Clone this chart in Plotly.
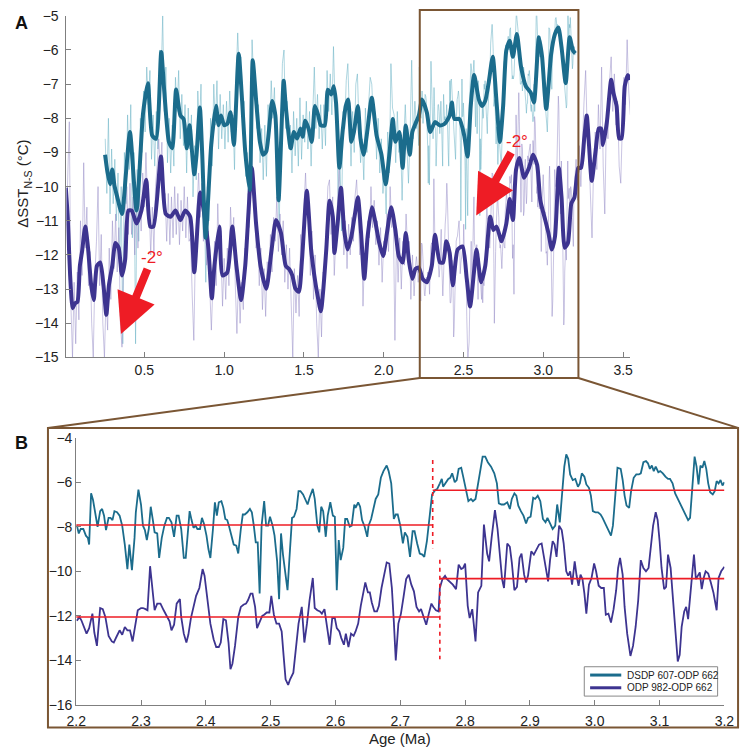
import plotly.graph_objects as go

# ---------------- Panel B data (raw, 2.2-3.2 Ma) ----------------
b607 = [(2.201,-7.94),(2.204,-8.3),(2.207,-8.1),(2.211,-8.1),(2.215,-8.4),(2.218,-8.5),(2.220,-8.8),(2.223,-6.5),(2.226,-6.8),(2.230,-7.5),(2.233,-8.0),(2.237,-7.3),(2.240,-7.2),(2.243,-7.5),(2.246,-8.15),(2.250,-7.6),(2.253,-7.6),(2.256,-7.7),(2.259,-7.3),(2.263,-7.35),(2.267,-7.5),(2.271,-7.95),(2.275,-8.8),(2.279,-9.9),(2.282,-8.8),(2.286,-9.95),(2.290,-8.5),(2.292,-7.35),(2.296,-6.33),(2.300,-7.0),(2.303,-7.95),(2.306,-8.15),(2.309,-8.6),(2.312,-8.1),(2.315,-7.1),(2.318,-7.65),(2.321,-8.25),(2.325,-8.3),(2.328,-9.4),(2.332,-8.5),(2.336,-7.95),(2.340,-7.6),(2.343,-7.6),(2.347,-7.8),(2.351,-8.45),(2.355,-7.5),(2.358,-7.5),(2.362,-8.1),(2.366,-9.4),(2.369,-9.4),(2.372,-8.1),(2.375,-7.3),(2.378,-7.7),(2.381,-8.05),(2.384,-7.95),(2.387,-8.1),(2.391,-8.1),(2.394,-7.6),(2.397,-7.85),(2.401,-8.4),(2.404,-9.0),(2.407,-9.4),(2.411,-8.1),(2.414,-6.9),(2.417,-7.5),(2.420,-6.9),(2.424,-6.85),(2.427,-7.15),(2.430,-7.65),(2.433,-7.7),(2.436,-8.0),(2.440,-8.4),(2.443,-8.8),(2.447,-8.85),(2.450,-9.2),(2.454,-8.1),(2.457,-7.45),(2.460,-7.45),(2.464,-7.35),(2.468,-7.2),(2.471,-7.35),(2.474,-7.95),(2.477,-8.7),(2.480,-8.7),(2.483,-11.0),(2.486,-7.95),(2.490,-6.85),(2.493,-7.95),(2.496,-7.95),(2.499,-7.55),(2.503,-7.95),(2.506,-8.4),(2.510,-9.55),(2.513,-11.25),(2.516,-8.3),(2.519,-9.25),(2.523,-10.3),(2.526,-10.85),(2.529,-9.4),(2.533,-7.6),(2.536,-7.55),(2.540,-7.2),(2.543,-6.4),(2.546,-6.4),(2.550,-6.55),(2.553,-6.75),(2.557,-7.0),(2.560,-6.7),(2.565,-6.3),(2.568,-6.75),(2.572,-7.95),(2.575,-8.25),(2.578,-7.1),(2.581,-7.3),(2.585,-8.45),(2.588,-7.5),(2.592,-6.9),(2.596,-7.5),(2.599,-7.55),(2.602,-10.85),(2.605,-8.6),(2.608,-9.5),(2.612,-8.95),(2.615,-7.65),(2.618,-7.65),(2.622,-8.0),(2.625,-7.95),(2.629,-7.0),(2.631,-7.15),(2.635,-6.9),(2.638,-7.1),(2.641,-7.7),(2.645,-8.0),(2.649,-8.45),(2.651,-7.95),(2.655,-7.65),(2.659,-7.2),(2.662,-6.75),(2.666,-6.55),(2.670,-5.8),(2.674,-5.5),(2.679,-5.25),(2.682,-5.5),(2.686,-6.05),(2.690,-7.65),(2.693,-7.45),(2.696,-7.45),(2.700,-7.95),(2.704,-8.75),(2.707,-8.25),(2.711,-8.45),(2.715,-9.35),(2.719,-8.2),(2.722,-8.2),(2.726,-8.75),(2.730,-9.2),(2.734,-9.25),(2.737,-9.35),(2.741,-8.65),(2.745,-7.7),(2.749,-6.55),(2.754,-6.35),(2.757,-6.3),(2.761,-6.05),(2.764,-5.85),(2.766,-6.2),(2.770,-6.05),(2.774,-5.85),(2.777,-5.8),(2.780,-5.6),(2.784,-6.0),(2.787,-5.9),(2.790,-5.4),(2.794,-5.35),(2.797,-5.75),(2.801,-6.25),(2.805,-6.85),(2.809,-6.75),(2.812,-6.85),(2.816,-6.75),(2.820,-6.1),(2.824,-5.5),(2.827,-4.85),(2.831,-4.85),(2.835,-5.1),(2.840,-5.3),(2.845,-5.6),(2.849,-6.05),(2.852,-6.95),(2.856,-7.0),(2.860,-7.0),(2.865,-6.9),(2.869,-7.2),(2.872,-6.75),(2.876,-6.5),(2.879,-6.6),(2.882,-7.05),(2.886,-7.3),(2.890,-7.5),(2.894,-7.85),(2.897,-7.6),(2.901,-7.55),(2.905,-6.7),(2.908,-6.75),(2.912,-6.6),(2.916,-6.85),(2.920,-7.65),(2.924,-7.8),(2.927,-7.6),(2.931,-7.85),(2.935,-8.1),(2.939,-7.95),(2.942,-7.0),(2.946,-7.8),(2.950,-6.4),(2.953,-5.3),(2.956,-4.75),(2.959,-4.95),(2.962,-5.65),(2.966,-5.9),(2.970,-5.85),(2.974,-6.2),(2.977,-6.05),(2.980,-5.6),(2.984,-5.75),(2.987,-6.1),(2.991,-6.25),(2.994,-6.6),(2.997,-7.3),(3.001,-7.35),(3.005,-7.35),(3.009,-7.45),(3.012,-7.6),(3.016,-7.85),(3.019,-8.0),(3.022,-8.15),(3.025,-8.4),(3.028,-7.95),(3.032,-6.6),(3.035,-5.35),(3.040,-5.4),(3.043,-5.9),(3.046,-6.6),(3.049,-7.05),(3.053,-7.15),(3.056,-6.4),(3.060,-5.8),(3.064,-5.65),(3.068,-5.65),(3.071,-5.6),(3.075,-5.1),(3.079,-5.05),(3.082,-5.15),(3.085,-5.4),(3.088,-5.25),(3.091,-5.5),(3.094,-5.3),(3.098,-5.55),(3.101,-5.5),(3.105,-5.6),(3.109,-5.75),(3.113,-5.85),(3.116,-5.85),(3.120,-6.05),(3.124,-6.5),(3.128,-6.75),(3.132,-7.0),(3.136,-7.2),(3.140,-7.45),(3.144,-7.7),(3.147,-7.6),(3.150,-6.4),(3.154,-4.85),(3.157,-5.3),(3.160,-6.1),(3.163,-5.25),(3.166,-5.35),(3.169,-5.05),(3.172,-5.4),(3.175,-6.05),(3.178,-6.45),(3.182,-6.55),(3.185,-6.4),(3.188,-5.95),(3.191,-6.05),(3.194,-5.9),(3.197,-6.15),(3.200,-6.0)]

b982 = [(2.201,-12.22),(2.205,-12.05),(2.208,-12.2),(2.212,-12.5),(2.216,-12.8),(2.220,-12.55),(2.225,-11.9),(2.228,-12.75),(2.232,-13.35),(2.237,-11.65),(2.241,-11.7),(2.245,-12.05),(2.250,-12.9),(2.255,-13.15),(2.258,-13.2),(2.262,-12.95),(2.267,-12.65),(2.271,-12.85),(2.275,-12.5),(2.279,-12.65),(2.283,-12.65),(2.287,-13.15),(2.291,-12.4),(2.295,-11.75),(2.300,-11.65),(2.303,-11.65),(2.307,-11.7),(2.310,-11.75),(2.314,-9.77),(2.317,-10.58),(2.321,-11.75),(2.325,-11.45),(2.330,-11.45),(2.335,-11.75),(2.340,-12.05),(2.344,-12.25),(2.347,-12.65),(2.351,-12.4),(2.355,-11.45),(2.360,-11.25),(2.362,-12.05),(2.366,-12.8),(2.370,-13.2),(2.373,-12.85),(2.377,-12.1),(2.381,-11.55),(2.385,-11.1),(2.390,-10.75),(2.395,-9.9),(2.398,-10.2),(2.402,-11.15),(2.407,-12.35),(2.412,-13.05),(2.416,-13.4),(2.420,-13.4),(2.423,-13.2),(2.427,-12.15),(2.431,-12.2),(2.435,-13.2),(2.438,-14.4),(2.441,-14.15),(2.445,-13.35),(2.450,-12.05),(2.454,-11.6),(2.458,-11.5),(2.462,-11.45),(2.465,-11.3),(2.469,-11.0),(2.472,-11.0),(2.476,-11.6),(2.479,-12.55),(2.483,-12.25),(2.487,-12.0),(2.490,-11.95),(2.494,-11.85),(2.498,-11.85),(2.501,-11.1),(2.505,-11.95),(2.509,-12.35),(2.513,-12.35),(2.517,-12.7),(2.520,-13.8),(2.523,-14.85),(2.527,-15.1),(2.530,-14.85),(2.535,-14.55),(2.540,-13.2),(2.543,-12.35),(2.548,-11.6),(2.552,-13.2),(2.556,-12.35),(2.560,-11.3),(2.565,-10.3),(2.568,-11.65),(2.572,-11.75),(2.576,-11.8),(2.579,-11.9),(2.583,-11.7),(2.587,-12.5),(2.591,-13.3),(2.595,-12.1),(2.599,-12.1),(2.602,-12.55),(2.606,-12.7),(2.609,-13.0),(2.613,-13.3),(2.616,-12.8),(2.620,-13.4),(2.624,-12.8),(2.628,-12.9),(2.631,-12.7),(2.635,-12.35),(2.639,-11.55),(2.642,-11.1),(2.646,-10.5),(2.650,-10.95),(2.653,-10.95),(2.656,-11.4),(2.660,-11.8),(2.664,-11.8),(2.667,-11.55),(2.671,-10.75),(2.675,-10.15),(2.679,-9.6),(2.683,-9.65),(2.687,-10.75),(2.690,-12.25),(2.693,-14.0),(2.697,-12.35),(2.701,-11.9),(2.705,-11.15),(2.709,-10.35),(2.713,-10.15),(2.717,-10.6),(2.721,-10.9),(2.725,-11.6),(2.729,-11.8),(2.732,-11.7),(2.736,-12.05),(2.740,-12.4),(2.744,-11.9),(2.748,-11.45),(2.751,-11.6),(2.755,-11.75),(2.759,-11.8),(2.761,-10.75),(2.765,-10.35),(2.769,-10.2),(2.772,-10.35),(2.776,-10.45),(2.781,-10.6),(2.786,-10.8),(2.790,-9.7),(2.794,-9.9),(2.797,-9.85),(2.800,-9.65),(2.804,-11.55),(2.807,-12.1),(2.811,-11.7),(2.816,-13.15),(2.820,-10.95),(2.825,-10.65),(2.829,-7.9),(2.834,-9.2),(2.837,-9.55),(2.841,-8.45),(2.846,-7.25),(2.850,-8.1),(2.854,-9.55),(2.857,-10.35),(2.860,-10.75),(2.865,-8.75),(2.869,-8.9),(2.872,-9.6),(2.876,-10.85),(2.880,-10.7),(2.884,-9.4),(2.887,-9.2),(2.891,-10.15),(2.894,-10.5),(2.897,-10.2),(2.902,-9.1),(2.906,-9.25),(2.910,-9.0),(2.914,-8.8),(2.918,-8.75),(2.922,-9.5),(2.925,-9.9),(2.928,-10.45),(2.931,-9.5),(2.935,-8.65),(2.938,-8.8),(2.941,-9.35),(2.945,-7.95),(2.949,-8.15),(2.952,-8.75),(2.956,-10.0),(2.959,-10.2),(2.962,-10.0),(2.965,-10.6),(2.969,-9.55),(2.972,-10.2),(2.975,-10.65),(2.978,-10.15),(2.981,-10.35),(2.984,-11.0),(2.987,-11.9),(2.991,-10.6),(2.995,-10.3),(2.999,-9.65),(3.002,-10.0),(3.006,-10.65),(3.010,-10.75),(3.014,-10.75),(3.017,-11.95),(3.021,-11.9),(3.025,-12.3),(3.029,-11.7),(3.033,-10.85),(3.036,-9.85),(3.039,-9.4),(3.043,-10.15),(3.046,-11.6),(3.050,-12.8),(3.055,-13.8),(3.059,-13.35),(3.063,-12.5),(3.067,-11.3),(3.071,-9.5),(3.075,-9.85),(3.079,-10.0),(3.083,-9.85),(3.087,-8.55),(3.090,-7.95),(3.094,-7.35),(3.097,-7.7),(3.100,-8.65),(3.103,-9.85),(3.107,-10.8),(3.110,-10.7),(3.113,-9.25),(3.117,-9.85),(3.120,-11.0),(3.124,-12.5),(3.128,-14.05),(3.131,-13.75),(3.134,-12.5),(3.138,-11.8),(3.141,-11.6),(3.144,-12.15),(3.148,-10.85),(3.151,-9.85),(3.153,-9.25),(3.156,-10.35),(3.159,-10.2),(3.162,-10.05),(3.165,-10.8),(3.168,-10.3),(3.171,-10.0),(3.175,-10.1),(3.179,-10.5),(3.183,-10.95),(3.188,-11.75),(3.191,-10.3),(3.195,-10.0),(3.200,-9.8)]

# ---------------- Panel A raw (thin) data outside 2.2-3.2 ----------------
raw607_early = [(0.255,-8.6),(0.265,-10.2),(0.275,-8.0),(0.285,-10.8),(0.295,-8.9),(0.305,-10.5),(0.315,-9.2),(0.325,-11.0),(0.335,-9.6),(0.345,-12.5),(0.355,-10.0),(0.365,-14.6),(0.375,-9.0),(0.385,-10.5),(0.395,-7.9),(0.405,-9.5),(0.415,-7.6),(0.425,-11.5),(0.435,-9.0),(0.445,-14.6),(0.455,-9.5),(0.465,-11.6),(0.475,-8.0),(0.485,-9.0),(0.495,-7.2),(0.505,-8.4),(0.515,-6.5),(0.525,-7.6),(0.535,-6.6),(0.545,-9.2),(0.555,-7.9),(0.565,-9.4),(0.575,-7.8),(0.585,-8.9),(0.595,-6.0),(0.605,-6.9),(0.615,-5.0),(0.625,-7.8),(0.635,-6.5),(0.645,-9.3),(0.655,-8.0),(0.665,-9.6),(0.675,-8.2),(0.685,-9.4),(0.695,-6.8),(0.705,-7.8),(0.715,-6.6),(0.725,-8.6),(0.735,-7.3),(0.745,-8.8),(0.755,-7.6),(0.765,-9.6),(0.775,-7.7),(0.785,-8.9),(0.795,-7.9),(0.805,-10.3),(0.815,-8.8),(0.825,-9.8),(0.835,-7.2),(0.845,-8.3),(0.855,-7.0),(0.865,-9.8),(0.875,-10.2),(0.885,-12.8),(0.895,-10.0),(0.905,-11.0),(0.915,-8.0),(0.925,-9.4),(0.935,-7.0),(0.945,-8.2),(0.955,-6.9),(0.965,-8.9),(0.975,-7.3),(0.985,-8.6),(0.995,-7.6),(1.005,-8.9),(1.015,-7.5),(1.025,-8.7),(1.035,-7.2),(1.045,-8.4),(1.055,-7.9),(1.065,-9.5),(1.075,-6.8),(1.085,-5.5),(1.095,-6.8),(1.105,-6.2),(1.115,-8.1),(1.125,-7.5),(1.135,-9.7),(1.145,-9.0),(1.155,-11.2),(1.165,-9.0),(1.175,-5.7),(1.185,-6.9),(1.195,-7.0),(1.205,-8.3),(1.215,-7.6),(1.225,-9.3),(1.235,-8.3),(1.245,-9.8),(1.255,-8.2),(1.265,-9.7),(1.275,-7.6),(1.285,-8.4),(1.295,-6.9),(1.305,-8.0),(1.315,-7.1),(1.325,-8.8),(1.335,-9.5),(1.345,-11.2),(1.355,-8.5),(1.365,-6.4),(1.375,-6.0),(1.385,-8.3),(1.395,-7.5),(1.405,-8.9),(1.415,-8.2),(1.425,-9.6),(1.435,-7.8),(1.445,-9.1),(1.455,-8.0),(1.465,-9.4),(1.475,-7.4),(1.485,-9.2),(1.495,-7.9),(1.505,-8.7),(1.515,-7.5),(1.525,-8.9),(1.535,-7.8),(1.545,-9.4),(1.555,-7.9),(1.565,-6.5),(1.575,-8.3),(1.585,-7.3),(1.595,-8.6),(1.605,-7.6),(1.615,-8.9),(1.625,-7.6),(1.635,-8.8),(1.645,-6.6),(1.655,-7.8),(1.665,-6.7),(1.675,-7.9),(1.685,-5.9),(1.695,-7.6),(1.705,-8.2),(1.715,-10.5),(1.725,-9.0),(1.735,-11.3),(1.745,-7.8),(1.755,-8.3),(1.765,-6.9),(1.775,-6.4),(1.785,-8.0),(1.795,-9.4),(1.805,-7.8),(1.815,-9.0),(1.825,-7.0),(1.835,-6.7),(1.845,-8.2),(1.855,-9.3),(1.865,-8.6),(1.875,-9.8),(1.885,-7.7),(1.895,-9.0),(1.905,-7.6),(1.915,-6.8),(1.925,-7.0),(1.935,-8.0),(1.945,-7.8),(1.955,-9.2),(1.965,-8.0),(1.975,-9.6),(1.985,-8.6),(1.995,-10.2),(2.005,-9.4),(2.015,-10.8),(2.025,-8.4),(2.035,-9.6),(2.045,-6.4),(2.055,-7.7),(2.065,-7.9),(2.075,-9.3),(2.085,-7.8),(2.095,-9.0),(2.105,-8.5),(2.115,-10.4),(2.125,-8.7),(2.135,-7.6),(2.145,-8.8),(2.155,-9.9),(2.165,-8.5),(2.175,-6.3),(2.185,-8.6),(2.195,-7.5)]

raw982_early = [(0.012,-11.0),(0.02,-9.5),(0.03,-8.1),(0.04,-13.5),(0.05,-15.0),(0.06,-12.8),(0.07,-14.6),(0.08,-12.5),(0.09,-13.9),(0.10,-11.0),(0.11,-12.6),(0.12,-9.3),(0.13,-11.8),(0.14,-10.6),(0.15,-12.9),(0.16,-11.9),(0.17,-14.0),(0.18,-15.0),(0.19,-12.6),(0.20,-11.6),(0.21,-10.0),(0.22,-12.9),(0.23,-11.4),(0.24,-14.0),(0.25,-15.0),(0.26,-13.2),(0.27,-14.2),(0.28,-11.8),(0.29,-13.3),(0.30,-11.0),(0.31,-12.4),(0.32,-10.8),(0.33,-12.5),(0.34,-11.2),(0.35,-14.0),(0.36,-14.7),(0.37,-12.0),(0.38,-11.0),(0.39,-10.0),(0.40,-11.4),(0.41,-9.9),(0.42,-11.4),(0.43,-10.3),(0.44,-12.0),(0.45,-10.4),(0.46,-11.8),(0.47,-10.0),(0.48,-11.3),(0.49,-9.6),(0.50,-10.6),(0.51,-9.0),(0.52,-10.4),(0.53,-10.5),(0.54,-12.0),(0.55,-10.6),(0.56,-11.9),(0.57,-10.0),(0.58,-9.4),(0.59,-8.6),(0.60,-9.5),(0.61,-8.7),(0.62,-10.5),(0.63,-10.2),(0.64,-11.6),(0.65,-10.2),(0.66,-11.7),(0.67,-10.3),(0.68,-11.5),(0.69,-10.0),(0.70,-11.4),(0.71,-10.2),(0.72,-11.7),(0.73,-10.4),(0.74,-11.3),(0.75,-10.0),(0.76,-11.5),(0.77,-10.3),(0.78,-11.6),(0.79,-11.5),(0.80,-13.2),(0.81,-14.5),(0.82,-11.8),(0.83,-10.8),(0.84,-9.6),(0.85,-10.9),(0.86,-9.9),(0.87,-11.6),(0.88,-10.4),(0.89,-12.3),(0.90,-11.3),(0.91,-13.0),(0.92,-14.2),(0.93,-12.8),(0.94,-11.6),(0.95,-12.9),(0.96,-10.5),(0.97,-11.9),(0.98,-12.0),(0.99,-13.5),(1.00,-12.1),(1.01,-13.3),(1.02,-11.8),(1.03,-12.9),(1.04,-10.6),(1.05,-11.7),(1.06,-10.9),(1.07,-12.9),(1.08,-14.3),(1.09,-12.6),(1.10,-14.0),(1.11,-12.8),(1.12,-13.6),(1.13,-11.8),(1.14,-12.4),(1.15,-10.2),(1.16,-10.8),(1.17,-8.8),(1.18,-10.2),(1.19,-10.4),(1.20,-11.8),(1.21,-11.3),(1.22,-12.9),(1.23,-11.8),(1.24,-13.6),(1.25,-12.4),(1.26,-13.8),(1.27,-12.2),(1.28,-12.8),(1.29,-11.4),(1.30,-12.5),(1.31,-10.9),(1.32,-11.6),(1.33,-10.3),(1.34,-11.9),(1.35,-10.8),(1.36,-12.0),(1.37,-11.0),(1.38,-12.8),(1.39,-11.7),(1.40,-13.0),(1.41,-11.8),(1.42,-13.3),(1.43,-15.0),(1.44,-12.4),(1.45,-13.7),(1.46,-12.6),(1.47,-13.8),(1.48,-11.4),(1.49,-12.6),(1.50,-10.6),(1.51,-9.6),(1.52,-10.8),(1.53,-10.9),(1.54,-12.6),(1.55,-11.3),(1.56,-13.3),(1.57,-12.0),(1.58,-14.0),(1.59,-15.0),(1.60,-13.0),(1.61,-14.4),(1.62,-12.5),(1.63,-12.8),(1.64,-11.2),(1.65,-10.0),(1.66,-9.8),(1.67,-11.4),(1.68,-10.3),(1.69,-12.6),(1.70,-11.5),(1.71,-10.5),(1.72,-9.5),(1.73,-10.6),(1.74,-10.4),(1.75,-12.0),(1.76,-11.0),(1.77,-12.4),(1.78,-11.1),(1.79,-12.0),(1.80,-10.9),(1.81,-11.6),(1.82,-10.3),(1.83,-9.8),(1.84,-10.9),(1.85,-12.0),(1.86,-11.0),(1.87,-13.5),(1.88,-12.0),(1.89,-12.3),(1.90,-11.0),(1.91,-11.5),(1.92,-10.0),(1.93,-11.2),(1.94,-10.4),(1.95,-11.7),(1.96,-11.0),(1.97,-12.3),(1.98,-11.2),(1.99,-12.8),(2.00,-11.6),(2.01,-12.0),(2.02,-10.8),(2.03,-11.9),(2.04,-10.0),(2.05,-11.2),(2.06,-10.9),(2.07,-14.5),(2.08,-11.5),(2.09,-12.8),(2.10,-11.5),(2.11,-13.0),(2.12,-11.6),(2.13,-12.3),(2.14,-10.8),(2.15,-11.9),(2.16,-11.6),(2.17,-13.3),(2.18,-12.0),(2.19,-13.2)]

raw982_late = [(3.205,-9.2),(3.215,-10.4),(3.225,-8.8),(3.235,-10.0),(3.245,-8.6),(3.255,-7.5),(3.265,-6.6),(3.275,-8.4),(3.285,-9.0),(3.295,-10.3),(3.305,-11.5),(3.315,-9.4),(3.325,-8.4),(3.335,-9.5),(3.345,-7.6),(3.355,-8.9),(3.365,-6.5),(3.375,-9.4),(3.385,-10.8),(3.395,-8.0),(3.405,-8.6),(3.415,-6.9),(3.425,-6.2),(3.435,-7.8),(3.445,-6.7),(3.455,-8.2),(3.465,-7.5),(3.475,-9.4),(3.485,-9.9),(3.495,-8.2),(3.505,-6.8),(3.515,-7.6),(3.525,-5.7),(3.535,-7.2),(3.545,-7.9)]

# ---------------- Panel A smoothed (thick) data ----------------
smooth607 = [(0.254,-9.07),(0.268,-9.55),(0.285,-9.93),(0.299,-9.5),(0.313,-9.98),(0.33,-10.3),(0.36,-10.8),(0.385,-9.6),(0.41,-8.4),(0.451,-10.7),(0.492,-7.85),(0.522,-6.97),(0.549,-8.5),(0.573,-8.6),(0.606,-6.06),(0.624,-7.16),(0.654,-8.69),(0.675,-8.88),(0.699,-7.16),(0.726,-7.92),(0.746,-8.02),(0.766,-8.88),(0.783,-8.2),(0.797,-8.88),(0.813,-9.64),(0.827,-9.07),(0.848,-7.68),(0.862,-8.97),(0.884,-11.5),(0.919,-8.78),(0.949,-7.63),(0.965,-8.2),(0.98,-7.92),(1.0,-8.2),(1.02,-8.16),(1.04,-7.82),(1.061,-8.78),(1.091,-6.11),(1.112,-7.44),(1.132,-8.97),(1.16,-10.1),(1.179,-6.3),(1.203,-7.63),(1.224,-8.69),(1.244,-9.07),(1.264,-8.97),(1.301,-7.49),(1.321,-7.92),(1.341,-10.4),(1.373,-6.9),(1.386,-7.64),(1.417,-8.88),(1.437,-8.4),(1.457,-8.59),(1.478,-8.3),(1.492,-8.54),(1.508,-8.07),(1.529,-8.3),(1.549,-8.69),(1.569,-7.64),(1.59,-7.92),(1.606,-8.21),(1.63,-8.21),(1.65,-7.16),(1.671,-7.3),(1.687,-7.06),(1.701,-7.54),(1.722,-9.45),(1.742,-8.4),(1.762,-7.64),(1.777,-7.45),(1.797,-8.69),(1.813,-8.4),(1.838,-7.64),(1.854,-8.59),(1.874,-9.07),(1.899,-8.3),(1.925,-7.4),(1.955,-8.5),(1.986,-9.07),(2.012,-9.93),(2.037,-8.97),(2.057,-8.02),(2.073,-8.69),(2.098,-8.4),(2.118,-9.45),(2.138,-8.21),(2.163,-9.07),(2.179,-8.4),(2.203,-8.11),(2.22,-7.92),(2.24,-7.45),(2.27,-7.83),(2.291,-8.4),(2.321,-8.11),(2.352,-8.21),(2.382,-8.16),(2.413,-7.92),(2.427,-7.54),(2.443,-8.02),(2.474,-8.02),(2.504,-8.5),(2.525,-9.12),(2.545,-7.64),(2.566,-6.73),(2.596,-7.45),(2.616,-7.64),(2.636,-7.49),(2.657,-6.97),(2.683,-6.2),(2.707,-7.54),(2.728,-8.69),(2.748,-7.64),(2.768,-6.01),(2.789,-5.73),(2.809,-6.2),(2.834,-5.53),(2.86,-6.49),(2.89,-7.06),(2.921,-7.25),(2.941,-7.54),(2.972,-5.63),(2.992,-6.2),(3.018,-7.73),(3.049,-6.11),(3.073,-5.53),(3.094,-5.34),(3.114,-5.92),(3.14,-6.97),(3.165,-5.63),(3.185,-6.01),(3.2,-6.1)]

smooth982 = [(0.008,-10.03),(0.02,-10.9),(0.035,-12.6),(0.051,-13.56),(0.065,-13.42),(0.081,-13.37),(0.096,-12.32),(0.11,-11.89),(0.13,-11.17),(0.146,-11.74),(0.167,-12.89),(0.183,-13.32),(0.203,-12.32),(0.224,-12.22),(0.244,-12.89),(0.262,-13.75),(0.278,-12.89),(0.299,-12.32),(0.319,-11.65),(0.339,-11.79),(0.36,-12.6),(0.38,-12.13),(0.4,-10.7),(0.421,-10.7),(0.451,-11.08),(0.482,-10.7),(0.512,-9.8),(0.537,-11.17),(0.557,-11.17),(0.604,-9.12),(0.634,-10.8),(0.665,-10.88),(0.695,-10.7),(0.726,-10.98),(0.756,-10.7),(0.787,-10.88),(0.813,-12.51),(0.85,-10.17),(0.878,-10.88),(0.902,-11.84),(0.923,-13.27),(0.939,-12.32),(0.97,-11.17),(0.99,-12.6),(1.02,-12.51),(1.051,-11.17),(1.077,-12.32),(1.106,-13.32),(1.132,-12.32),(1.173,-9.45),(1.2,-11.08),(1.228,-12.32),(1.264,-12.99),(1.295,-11.94),(1.325,-10.98),(1.356,-11.36),(1.386,-12.32),(1.407,-12.41),(1.427,-12.6),(1.447,-12.99),(1.468,-13.08),(1.488,-12.13),(1.518,-10.12),(1.545,-11.84),(1.565,-12.6),(1.585,-13.18),(1.606,-13.65),(1.62,-13.08),(1.64,-11.84),(1.661,-10.41),(1.681,-10.88),(1.691,-11.94),(1.711,-11.08),(1.732,-10.03),(1.752,-11.27),(1.773,-11.84),(1.797,-11.46),(1.817,-10.88),(1.838,-10.31),(1.858,-11.36),(1.878,-12.7),(1.899,-11.46),(1.925,-10.6),(1.945,-10.98),(1.972,-11.65),(1.996,-12.03),(2.02,-11.36),(2.047,-10.6),(2.073,-11.27),(2.094,-12.03),(2.118,-12.22),(2.138,-11.36),(2.159,-12.22),(2.179,-12.7),(2.199,-12.41),(2.22,-12.37),(2.244,-12.7),(2.27,-12.8),(2.301,-12.32),(2.321,-11.41),(2.352,-12.22),(2.372,-12.22),(2.392,-11.6),(2.413,-11.94),(2.433,-12.89),(2.463,-11.84),(2.494,-11.75),(2.52,-12.7),(2.541,-13.51),(2.565,-12.51),(2.581,-11.84),(2.61,-12.8),(2.636,-12.32),(2.667,-10.88),(2.687,-11.27),(2.707,-11.17),(2.738,-11.6),(2.768,-11.08),(2.789,-10.36),(2.809,-10.98),(2.829,-9.5),(2.849,-9.16),(2.88,-9.74),(2.91,-9.45),(2.935,-9.07),(2.961,-9.36),(2.981,-10.4),(3.012,-10.98),(3.032,-11.36),(3.053,-11.84),(3.073,-11.46),(3.097,-9.45),(3.114,-10.31),(3.134,-11.79),(3.154,-11.65),(3.175,-10.5),(3.195,-10.31),(3.219,-9.45),(3.236,-9.45),(3.256,-8.59),(3.272,-7.92),(3.286,-8.78),(3.303,-9.83),(3.327,-8.97),(3.347,-8.3),(3.362,-8.3),(3.374,-8.78),(3.398,-8.11),(3.425,-6.87),(3.439,-7.25),(3.459,-7.64),(3.475,-8.59),(3.49,-8.59),(3.51,-7.06),(3.53,-6.73),(3.544,-6.87)]

# step means (panel B)
shift_age = [2.2, 2.75, 2.761, 3.2]
mean607 = [-7.92, -6.36]
mean982 = [-12.05, -10.33]
dash607 = [-5.0, -8.97]
dash982 = [-9.48, -13.95]

xA_ticks = [0.5, 1.0, 1.5, 2.0, 2.5, 3.0, 3.5]
yA_ticks = list(range(-15, -4))
xB_ticks = [2.2, 2.3, 2.4, 2.5, 2.6, 2.7, 2.8, 2.9, 3.0, 3.1, 3.2]
yB_ticks = [-16, -14, -12, -10, -8, -6, -4]

names = ["DSDP 607-ODP 662", "ODP 982-ODP 662"]

# ---------------- styling ----------------
TEAL = "#1b6c8c"
PURP = "#3d3490"
TEAL_L = "rgba(110,180,198,0.55)"
PURP_L = "rgba(150,140,200,0.5)"
RED = "#ee1c25"
BROWN = "#7a5634"
AX = "#7f7f7f"
FONT = "Liberation Sans, Arial, Helvetica, sans-serif"

def sx(p):
    return [a for a, _ in p]

def sy(p):
    return [v for _, v in p]

W, H = 750, 755
def px(x):
    return x / W
def py(y):
    return 1 - y / H

fig = go.Figure()

raw607 = raw607_early + b607
raw982 = raw982_early + b982 + raw982_late
fig.add_trace(go.Scatter(x=sx(raw607), y=sy(raw607), mode="lines", line=dict(color=TEAL_L, width=1), showlegend=False, xaxis="x", yaxis="y"))
fig.add_trace(go.Scatter(x=sx(raw982), y=sy(raw982), mode="lines", line=dict(color=PURP_L, width=1), showlegend=False, xaxis="x", yaxis="y"))
fig.add_trace(go.Scatter(x=sx(smooth982), y=sy(smooth982), mode="lines", line=dict(color=PURP, width=4, shape="spline", smoothing=0.6), showlegend=False, xaxis="x", yaxis="y"))
fig.add_trace(go.Scatter(x=sx(smooth607), y=sy(smooth607), mode="lines", line=dict(color=TEAL, width=4, shape="spline", smoothing=0.6), showlegend=False, xaxis="x", yaxis="y"))

# panel B
fig.add_trace(go.Scatter(x=sx(b607), y=sy(b607), mode="lines", line=dict(color=TEAL, width=1.8), showlegend=False, xaxis="x2", yaxis="y2"))
fig.add_trace(go.Scatter(x=sx(b982), y=sy(b982), mode="lines", line=dict(color=PURP, width=1.8), showlegend=False, xaxis="x2", yaxis="y2"))

for means, xs in ((mean607, (shift_age[0], shift_age[1], shift_age[1], shift_age[3])), (mean982, (shift_age[0], shift_age[2], shift_age[2], shift_age[3]))):
    fig.add_trace(go.Scatter(x=[xs[0], xs[1]], y=[means[0], means[0]], mode="lines", line=dict(color=RED, width=1.6), showlegend=False, xaxis="x2", yaxis="y2"))
    fig.add_trace(go.Scatter(x=[xs[2], xs[3]], y=[means[1], means[1]], mode="lines", line=dict(color=RED, width=1.6), showlegend=False, xaxis="x2", yaxis="y2"))
fig.add_trace(go.Scatter(x=[shift_age[1], shift_age[1]], y=dash607, mode="lines", line=dict(color=RED, width=1.6, dash="4px,4px"), showlegend=False, xaxis="x2", yaxis="y2"))
fig.add_trace(go.Scatter(x=[shift_age[2], shift_age[2]], y=dash982, mode="lines", line=dict(color=RED, width=1.6, dash="4px,4px"), showlegend=False, xaxis="x2", yaxis="y2"))

axis_common = dict(showgrid=False, zeroline=False, showline=True, linecolor=AX, linewidth=1,
                   ticks="inside", ticklen=5, tickcolor=AX, tickwidth=1,
                   tickfont=dict(family=FONT, size=14, color="#222"))

fig.update_layout(
    width=W, height=H, margin=dict(l=0, r=0, t=0, b=0),
    paper_bgcolor="white", plot_bgcolor="rgba(0,0,0,0)",
    font=dict(family=FONT, color="#222"),
    showlegend=False,
    xaxis=dict(domain=[px(58), px(637)], range=[0.012, 3.543], tickvals=xA_ticks,
               ticktext=[f"{v:.1f}" for v in xA_ticks], anchor="y", **axis_common),
    yaxis=dict(domain=[py(357), py(8)], range=[-15, -5], tickvals=yA_ticks, anchor="x",
               ticklabelstandoff=4, **axis_common),
    xaxis2=dict(domain=[px(68), px(734)], range=[2.2, 3.2], tickvals=xB_ticks,
                ticktext=[f"{v:.1f}" for v in xB_ticks], anchor="y2", ticklabelstandoff=3, **axis_common),
    yaxis2=dict(domain=[py(712), py(439)], range=[-16, -4], tickvals=yB_ticks, anchor="x2", **axis_common),
)

# manual legend (box, line samples, labels)
LEG = dict(x0=590, x1=727, y0=673, y1=703)
shapes = [
    dict(type="rect", xref="paper", yref="paper", x0=px(421), x1=px(584), y0=py(378), y1=py(2), line=dict(color=BROWN, width=2)),
    dict(type="line", xref="paper", yref="paper", x0=px(421), y0=py(378), x1=px(39), y1=py(429), line=dict(color=BROWN, width=2)),
    dict(type="line", xref="paper", yref="paper", x0=px(584), y0=py(378), x1=px(748), y1=py(429), line=dict(color=BROWN, width=2)),
    dict(type="rect", xref="paper", yref="paper", x0=px(39), x1=px(748), y0=py(735), y1=py(429), line=dict(color=BROWN, width=2)),
    dict(type="rect", xref="paper", yref="paper", x0=px(LEG["x0"]), x1=px(LEG["x1"]), y0=py(LEG["y1"]), y1=py(LEG["y0"]),
         line=dict(color="#888", width=1), fillcolor="white", layer="above"),
    dict(type="line", xref="paper", yref="paper", x0=px(596), x1=px(628), y0=py(681.5), y1=py(681.5), line=dict(color=TEAL, width=3)),
    dict(type="line", xref="paper", yref="paper", x0=px(596), x1=px(628), y0=py(694.5), y1=py(694.5), line=dict(color=PURP, width=3)),
]
fig.update_layout(shapes=shapes)

ann = [
    dict(text="<b>A</b>", x=px(3), y=py(3), xref="paper", yref="paper", xanchor="left", yanchor="top", showarrow=False, font=dict(size=18, color="#111")),
    dict(text="<b>B</b>", x=px(3), y=py(432), xref="paper", yref="paper", xanchor="left", yanchor="top", showarrow=False, font=dict(size=18, color="#111")),
    dict(text="ΔSST<sub>N-S</sub> (°C)", x=px(14), y=py(180), xref="paper", yref="paper", xanchor="center", yanchor="middle",
         textangle=-90, showarrow=False, font=dict(size=15, color="#222")),
    dict(text="Age (Ma)", x=px(401), y=py(746), xref="paper", yref="paper", xanchor="center", yanchor="middle",
         showarrow=False, font=dict(size=15, color="#222")),
    dict(text=names[0], x=px(632), y=py(681.5), xref="paper", yref="paper", xanchor="left", yanchor="middle",
         showarrow=False, font=dict(size=10, color="#222")),
    dict(text=names[1], x=px(632), y=py(694.5), xref="paper", yref="paper", xanchor="left", yanchor="middle",
         showarrow=False, font=dict(size=10, color="#222")),
    dict(text="-2°", x=px(114), y=py(333), xref="paper", yref="paper", ax=31, ay=-76, showarrow=True,
         arrowhead=2, arrowsize=1, arrowwidth=8, arrowcolor=RED, standoff=0, font=dict(size=17, color=RED)),
    dict(text="-2°", x=px(479), y=py(212), xref="paper", yref="paper", ax=41, ay=-74, showarrow=True,
         arrowhead=2, arrowsize=1, arrowwidth=8, arrowcolor=RED, standoff=0, font=dict(size=17, color=RED)),
]
fig.update_layout(annotations=ann)

fig.write_html("out.html")
